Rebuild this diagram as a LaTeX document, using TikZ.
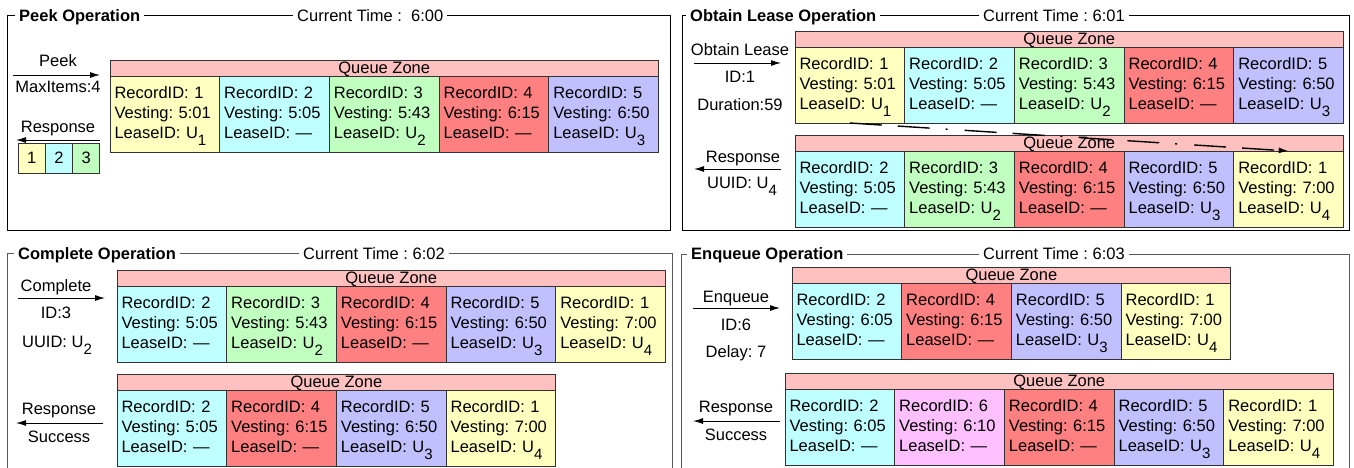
\documentclass[tikz,border=0pt]{standalone}
\usepackage{fontspec}
\setmainfont{Liberation Sans}
\usepackage{tikz}
\usetikzlibrary{arrows.meta, positioning}
\frenchspacing

\definecolor{cyel}{RGB}{255,255,192}
\definecolor{ccyan}{RGB}{192,255,255}
\definecolor{cgrn}{RGB}{192,255,192}
\definecolor{cred}{RGB}{255,128,128}
\definecolor{cblu}{RGB}{192,192,255}
\definecolor{cpnk}{RGB}{255,192,255}
\definecolor{chdr}{RGB}{255,192,192}

\newcommand{\ldsub}[1]{\smash{\raisebox{-7pt}{\fontsize{15}{15}\selectfont #1}}}
\newcommand{\rec}[3]{RecordID: #1\\Vesting: #2\\LeaseID: #3}

\begin{document}
\begin{tikzpicture}[
  x=1pt, y=-1pt, font=\fontsize{16.5}{20}\selectfont,
  cell/.style  = {draw=black!80, line width=0.9pt, outer sep=0pt,
                  inner xsep=4.5pt, inner ysep=0pt, text width=100.7pt,
                  minimum height=76pt, align=left,
                  text height=12pt, text depth=44pt},
  hdr/.style   = {draw=black!80, line width=0.9pt, fill=chdr, outer sep=0pt,
                  inner sep=0pt, minimum height=16pt, text height=11pt,
                  text depth=0pt, anchor=south west},
  mini/.style  = {draw=black!80, line width=0.9pt, outer sep=0pt, inner sep=0pt,
                  minimum width=27.3pt, minimum height=30pt},
  frame/.style = {draw=black, line width=1pt},
  frameb/.style= {draw=black!65, line width=1pt},
  ttl/.style   = {fill=white, inner xsep=4pt, inner ysep=1pt, anchor=base west},
  lbl/.style   = {anchor=base, inner sep=0pt},
  arr/.style   = {-{Latex[length=10pt,width=6pt]}, line width=1pt},
  mv/.style    = {arr, line width=1.4pt,
                  dash pattern=on 32pt off 16pt on 32pt off 16pt on 2pt off 17pt}
]
\useasboundingbox (0,0) rectangle (1354,467);

% Peek
\draw[frame] (7,15) rectangle (670,230);
\node[ttl] (pkttl) at (15,21) {\bfseries Peek Operation};
\node[ttl] (pktime) at (293,21) {Current Time :\ \ 6:00};
\node[cell, fill=cyel, anchor=north west] (a1) at (110,76) {\rec{1}{5:01}{U\ldsub{1}}};
\node[cell, fill=ccyan, right=0pt of a1] (a2) {\rec{2}{5:05}{\textemdash}};
\node[cell, fill=cgrn, right=0pt of a2] (a3) {\rec{3}{5:43}{U\ldsub{2}}};
\node[cell, fill=cred, right=0pt of a3] (a4) {\rec{4}{6:15}{\textemdash}};
\node[cell, fill=cblu, right=0pt of a4] (a5) {\rec{5}{6:50}{U\ldsub{3}}};
\node[hdr, minimum width=548.5pt] (ahdr) at (a1.north west) {Queue Zone};
\coordinate (pkin0) at (13,75);
\coordinate (pkin1) at (100,75);
\draw[arr] (pkin0) -- (pkin1);
\node[lbl] (pkop) at (58,66) {Peek};
\node[lbl] (pkarg) at (58,92) {MaxItems:4};
\coordinate (pkout0) at (100,140);
\coordinate (pkout1) at (16,140);
\draw[arr] (pkout0) -- (pkout1);
\node[lbl] (pkres) at (58,132) {Response};
\node[mini, fill=cyel, anchor=north west] (r1) at (18,143) {1};
\node[mini, fill=ccyan, right=0pt of r1] (r2) {2};
\node[mini, fill=cgrn, right=0pt of r2] (r3) {3};

% Obtain lease
\draw[frame] (682,15) rectangle (1349,230);
\node[ttl] (obttl) at (686,21) {\bfseries Obtain Lease Operation};
\node[ttl] (obtime) at (979,21) {Current Time : 6:01};
\node[cell, fill=cyel, anchor=north west] (b1) at (795,47) {\rec{1}{5:01}{U\ldsub{1}}};
\node[cell, fill=ccyan, right=0pt of b1] (b2) {\rec{2}{5:05}{\textemdash}};
\node[cell, fill=cgrn, right=0pt of b2] (b3) {\rec{3}{5:43}{U\ldsub{2}}};
\node[cell, fill=cred, right=0pt of b3] (b4) {\rec{4}{6:15}{\textemdash}};
\node[cell, fill=cblu, right=0pt of b4] (b5) {\rec{5}{6:50}{U\ldsub{3}}};
\node[hdr, minimum width=548.5pt] (bhdr) at (b1.north west) {Queue Zone};
\node[cell, fill=ccyan, anchor=north west] (c1) at (795,151) {\rec{2}{5:05}{\textemdash}};
\node[cell, fill=cgrn, right=0pt of c1] (c2) {\rec{3}{5:43}{U\ldsub{2}}};
\node[cell, fill=cred, right=0pt of c2] (c3) {\rec{4}{6:15}{\textemdash}};
\node[cell, fill=cblu, right=0pt of c3] (c4) {\rec{5}{6:50}{U\ldsub{3}}};
\node[cell, fill=cyel, right=0pt of c4] (c5) {\rec{1}{7:00}{U\ldsub{4}}};
\node[hdr, minimum width=548.5pt] (chdr) at (c1.north west) {Queue Zone};
\draw[mv] (b1.south) -- (c5.north);
\coordinate (obin0) at (694,63);
\coordinate (obin1) at (781,63);
\draw[arr] (obin0) -- (obin1);
\node[lbl] (obop) at (740,55) {Obtain Lease};
\node[lbl] (obid) at (740,82) {ID:1};
\node[lbl] (obdur) at (740,110) {Duration:59};
\coordinate (obout0) at (781,169);
\coordinate (obout1) at (694,169);
\draw[arr] (obout0) -- (obout1);
\node[lbl] (obres) at (743,162) {Response};
\node[lbl] (obuid) at (742,188) {UUID: U\ldsub{4}};

% Complete
\draw[frameb] (7,470) -- (7,253) -- (672,253) -- (672,470);
\node[ttl] (cpttl) at (14,259) {\bfseries Complete Operation};
\node[ttl] (cptime) at (299,259) {Current Time : 6:02};
\node[cell, fill=ccyan, anchor=north west] (d1) at (117,286) {\rec{2}{5:05}{\textemdash}};
\node[cell, fill=cgrn, right=0pt of d1] (d2) {\rec{3}{5:43}{U\ldsub{2}}};
\node[cell, fill=cred, right=0pt of d2] (d3) {\rec{4}{6:15}{\textemdash}};
\node[cell, fill=cblu, right=0pt of d3] (d4) {\rec{5}{6:50}{U\ldsub{3}}};
\node[cell, fill=cyel, right=0pt of d4] (d5) {\rec{1}{7:00}{U\ldsub{4}}};
\node[hdr, minimum width=548.5pt] (dhdr) at (d1.north west) {Queue Zone};
\node[cell, fill=ccyan, anchor=north west] (e1) at (117,390) {\rec{2}{5:05}{\textemdash}};
\node[cell, fill=cred, right=0pt of e1] (e2) {\rec{4}{6:15}{\textemdash}};
\node[cell, fill=cblu, right=0pt of e2] (e3) {\rec{5}{6:50}{U\ldsub{3}}};
\node[cell, fill=cyel, right=0pt of e3] (e4) {\rec{1}{7:00}{U\ldsub{4}}};
\node[hdr, minimum width=438.8pt] (ehdr) at (e1.north west) {Queue Zone};
\coordinate (cpin0) at (18,298);
\coordinate (cpin1) at (105,298);
\draw[arr] (cpin0) -- (cpin1);
\node[lbl] (cpop) at (56,291) {Complete};
\node[lbl] (cpid) at (56,318) {ID:3};
\node[lbl] (cpuid) at (57,347) {UUID: U\ldsub{2}};
\coordinate (cpout0) at (103,423);
\coordinate (cpout1) at (16,423);
\draw[arr] (cpout0) -- (cpout1);
\node[lbl] (cpres) at (59,414) {Response};
\node[lbl] (cpok) at (59,442) {Success};

% Enqueue
\draw[frameb] (681,470) -- (681,254) -- (1349,254) -- (1349,470);
\node[ttl] (enttl) at (687,259) {\bfseries Enqueue Operation};
\node[ttl] (entime) at (979,259) {Current Time : 6:03};
\node[cell, fill=ccyan, anchor=north west] (f1) at (792,283) {\rec{2}{6:05}{\textemdash}};
\node[cell, fill=cred, right=0pt of f1] (f2) {\rec{4}{6:15}{\textemdash}};
\node[cell, fill=cblu, right=0pt of f2] (f3) {\rec{5}{6:50}{U\ldsub{3}}};
\node[cell, fill=cyel, right=0pt of f3] (f4) {\rec{1}{7:00}{U\ldsub{4}}};
\node[hdr, minimum width=438.8pt] (fhdr) at (f1.north west) {Queue Zone};
\node[cell, fill=ccyan, anchor=north west] (g1) at (785,389) {\rec{2}{6:05}{\textemdash}};
\node[cell, fill=cpnk, right=0pt of g1] (g2) {\rec{6}{6:10}{\textemdash}};
\node[cell, fill=cred, right=0pt of g2] (g3) {\rec{4}{6:15}{\textemdash}};
\node[cell, fill=cblu, right=0pt of g3] (g4) {\rec{5}{6:50}{U\ldsub{3}}};
\node[cell, fill=cyel, right=0pt of g4] (g5) {\rec{1}{7:00}{U\ldsub{4}}};
\node[hdr, minimum width=548.5pt] (ghdr) at (g1.north west) {Queue Zone};
\coordinate (enin0) at (693,308);
\coordinate (enin1) at (780,308);
\draw[arr] (enin0) -- (enin1);
\node[lbl] (enop) at (736,302) {Enqueue};
\node[lbl] (enid) at (736,330) {ID:6};
\node[lbl] (endel) at (736,357) {Delay: 7};
\coordinate (enout0) at (780,421);
\coordinate (enout1) at (693,421);
\draw[arr] (enout0) -- (enout1);
\node[lbl] (enres) at (736,412) {Response};
\node[lbl] (enok) at (736,440) {Success};
\end{tikzpicture}
\end{document}
